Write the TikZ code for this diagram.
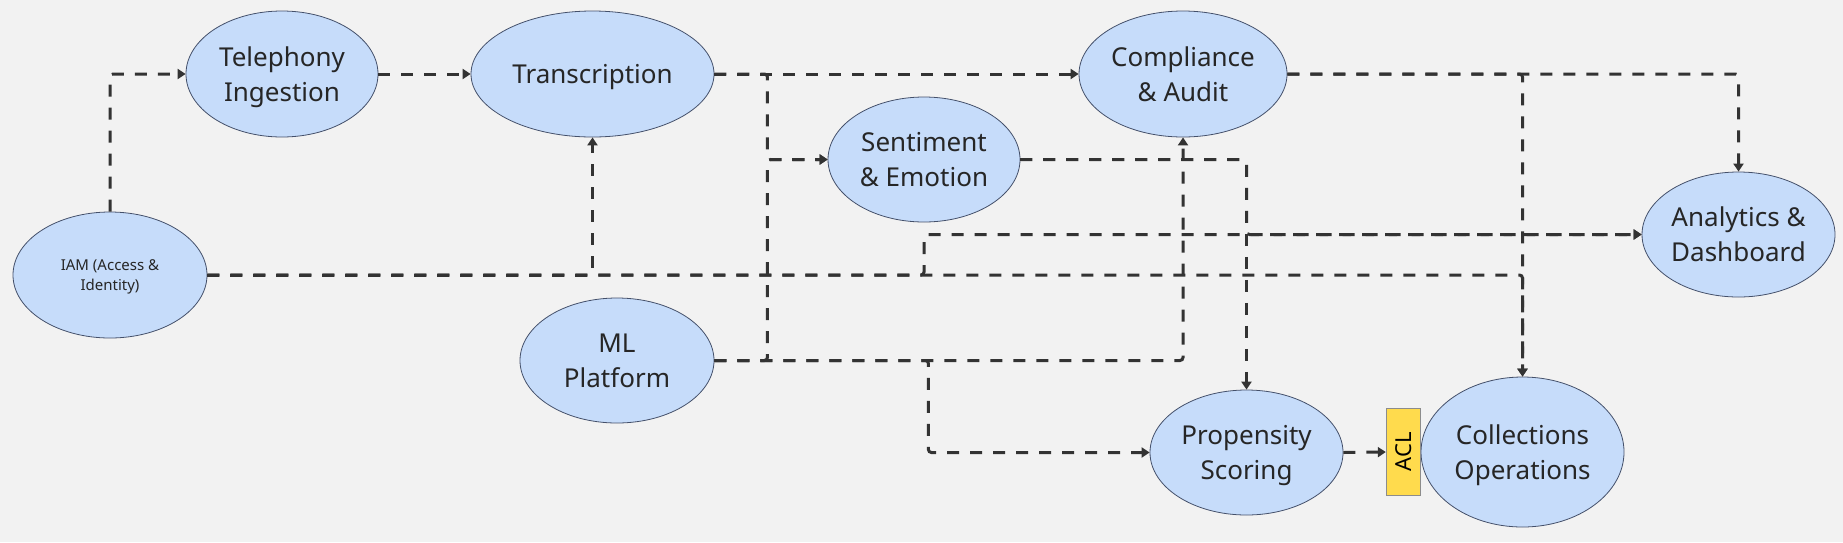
\documentclass[tikz,border=0pt]{standalone}
\usepackage{fontspec}
\setmainfont{Noto Sans}
\usepackage{xcolor}
\usetikzlibrary{positioning,arrows.meta,shapes.geometric}
\definecolor{bgc}{HTML}{F2F2F2}
\definecolor{svcfill}{HTML}{C6DCFA}
\definecolor{svcline}{HTML}{44506A}
\definecolor{flowc}{HTML}{333333}
\definecolor{aclfill}{HTML}{FFDB4D}

\begin{document}
\begin{tikzpicture}[x=1pt, y=-1pt,
  svc/.style={ellipse, draw=svcline, line width=0.8pt, fill=svcfill, align=center, inner sep=0pt, text depth=0pt, text=black!85, font=\fontsize{26}{35}\selectfont},
  aclbox/.style={draw=black!45, line width=0.8pt, fill=aclfill, inner sep=0pt, minimum width=34pt, minimum height=87pt, font=\fontsize{22}{26}\selectfont},
  flow/.style={-{Triangle[length=8pt, width=10pt]}, draw=flowc, line width=3pt, dash pattern=on 12pt off 11pt, rounded corners=3pt},
]
\useasboundingbox (0,0) rectangle (1843,542);
\fill[bgc] (0,0) rectangle (1843,542);

\node[svc, minimum width=194pt, minimum height=126pt, font=\fontsize{15}{20}\selectfont] (iam) at (110,275) {IAM (Access \&\\Identity)};
\node[svc, minimum width=192pt, minimum height=126pt] (tel) at (282,74) {Telephony\\Ingestion};
\node[svc, minimum width=243pt, minimum height=126pt] (trans) at (592.5,74) {Transcription};
\node[svc, minimum width=192pt, minimum height=125pt] (sent) at (924,159.5) {Sentiment\\\& Emotion};
\node[svc, minimum width=208pt, minimum height=126pt] (comp) at (1183,74) {Compliance\\\& Audit};
\node[svc, minimum width=193pt, minimum height=125pt] (ana) at (1738.5,234.5) {Analytics \&\\Dashboard};
\node[svc, minimum width=194pt, minimum height=125pt] (ml) at (617,360.5) {ML\\Platform};
\node[svc, minimum width=193pt, minimum height=125pt] (prop) at (1246.5,452.5) {Propensity\\Scoring};
\node[svc, minimum width=203pt, minimum height=150pt] (coll) at (1522.5,452) {Collections\\Operations};
\node[aclbox, left=0pt of coll] (acl) {\rotatebox{90}{ACL}};

\draw[flow] (iam.north) |- (tel.west);
\draw[flow] (tel) -- (trans);
\draw[flow] (iam.east) -| (trans.south);
\draw[flow] (iam.east) -| (sent.south |- ana.west) -- (ana.west);
\draw[flow] (iam.east) -| (coll.north);
\draw[flow] (trans.east) -- (comp.west);
\draw[flow] (trans.east) -- ++(53,0) |- (sent.west);
\draw[flow] (ml.east) -- ++(53,0) |- (sent.west);
\draw[flow] (ml.east) -| (comp.south);
\draw[flow] (ml.east) -- ++(214,0) |- (prop.west);
\draw[flow] (sent.east) -| (prop.north);
\draw[flow] (sent.east) -| (prop.north |- ana.west) -- (ana.west);
\draw[flow] (comp.east) -| (ana.north);
\draw[flow] (comp.east) -| (coll.north);
\draw[flow] (prop.east) -- (acl.west);
\end{tikzpicture}
\end{document}
